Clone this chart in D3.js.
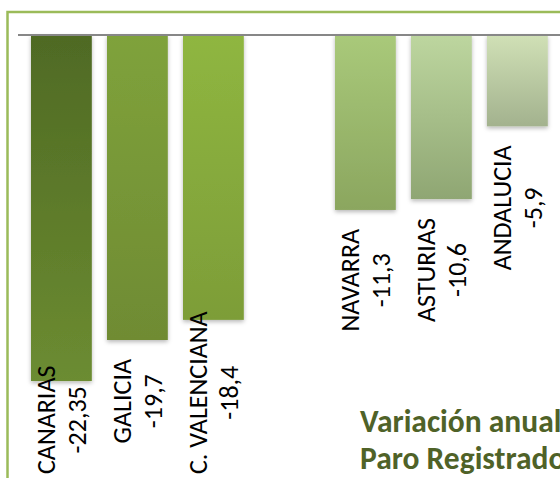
<!DOCTYPE html>
<html>
<head>
<meta charset="utf-8">
<script src="https://cdn.jsdelivr.net/npm/d3@7"></script>
<style>
  html, body { margin: 0; padding: 0; background: #ffffff; overflow: hidden; }
  svg { display: block; }
</style>
</head>
<body>
<svg id="chart" width="560" height="478"></svg>
<script>
// ---- data ----
const categories = ["CANARIAS", "GALICIA", "C. VALENCIANA", "", "NAVARRA", "ASTURIAS", "ANDALUCIA"];
const values = [-22.35, -19.7, -18.4, null, -11.3, -10.6, -5.9];
const titleLines = ["Variación anual", "Paro Registrado"];

// ---- styles ----
const topColors = ["#4f6a24", "#7fa23b", "#8fb640", null, "#a9c97a", "#bdd69f", "#d0e0b6"];
const bottomColors = ["#6c8c31", "#6f8b33", "#7d9d38", null, "#8ba65f", "#8fa673", "#a3b28e"];
const labelFont = "Carlito, Lato, 'Open Sans', sans-serif";

const W = 560, H = 478;
const svg = d3.select("#chart");

const locale = d3.formatLocale({decimal: ",", thousands: ".", grouping: [3], currency: ["", "€"], minus: "-"});
const fmt = v => locale.format("")(v);

const defs = svg.append("defs");
const shadow = defs.append("filter").attr("id", "shadow")
  .attr("x", "-20%").attr("y", "-10%").attr("width", "140%").attr("height", "130%");
shadow.append("feDropShadow").attr("dx", 0).attr("dy", 2).attr("stdDeviation", 2)
  .attr("flood-color", "#000").attr("flood-opacity", 0.28);

categories.forEach((c, i) => {
  if (values[i] == null) return;
  const g = defs.append("linearGradient").attr("id", "grad" + i)
    .attr("x1", 0).attr("y1", 0).attr("x2", 0).attr("y2", 1);
  g.append("stop").attr("offset", "0%").attr("stop-color", topColors[i]);
  g.append("stop").attr("offset", "100%").attr("stop-color", bottomColors[i]);
});

// outer chart border (cropped piece of a larger chart)
svg.append("rect")
  .attr("x", 7.5).attr("y", 12)
  .attr("width", W + 40).attr("height", H + 40)
  .attr("fill", "#fff")
  .attr("stroke", "#9bbb59").attr("stroke-width", 2.5);

// scales
const x = d3.scaleBand()
  .domain(categories)
  .range([23.4, 555.4])
  .paddingInner(0.2)
  .paddingOuter(0.1);

const y = d3.scaleLinear()
  .domain([0, -28])
  .range([35, 468.5]);

// bars
const present = categories.map((c, i) => ({c, v: values[i], i})).filter(d => d.v != null);

svg.append("g").selectAll("rect")
  .data(present)
  .join("rect")
  .attr("x", d => x(d.c))
  .attr("y", y(0))
  .attr("width", x.bandwidth())
  .attr("height", d => y(d.v) - y(0))
  .attr("fill", d => `url(#grad${d.i})`)
  .attr("filter", "url(#shadow)");

// axis line (zero)
const axis = d3.axisTop(x).tickSize(0).tickFormat("");
svg.append("g")
  .attr("transform", `translate(0,${y(0)})`)
  .call(axis)
  .call(g => g.select(".domain")
    .attr("d", `M18,0H${W + 5}`)
    .attr("stroke", "#878787").attr("stroke-width", 2.2));

// data labels (rotated, below bar end, kept inside plot)
const gap = 19, plotBottom = 474, pitch = 31;
const labels = svg.append("g").selectAll("g")
  .data(present)
  .join("g");

labels.each(function(d) {
  const g = d3.select(this);
  const t = g.append("text")
    .attr("text-anchor", "middle")
    .attr("font-family", labelFont)
    .attr("font-size", 26)
    .attr("fill", "#000");
  t.append("tspan").attr("x", 0).attr("y", -pitch / 2).attr("dominant-baseline", "central").text(d.c);
  t.append("tspan").attr("x", 0).attr("y", pitch / 2).attr("dominant-baseline", "central").text(fmt(d.v));
  const len = Math.max(...t.selectAll("tspan").nodes().map(n => n.getComputedTextLength()));
  let cy = y(d.v) + gap + len / 2;
  if (cy + len / 2 > plotBottom) cy = plotBottom - len / 2;
  g.attr("transform", `translate(${x(d.c) + x.bandwidth() / 2},${cy}) rotate(-90)`);
});

// title
svg.append("text")
  .attr("x", 360)
  .attr("y", 432)
  .attr("font-family", labelFont)
  .attr("font-weight", "bold")
  .attr("font-size", 31.5)
  .attr("fill", "#4f6228")
  .selectAll("tspan")
  .data(titleLines)
  .join("tspan")
  .attr("x", 360)
  .attr("dy", (d, i) => i === 0 ? 0 : 37)
  .text(d => d);
</script>
</body>
</html>
